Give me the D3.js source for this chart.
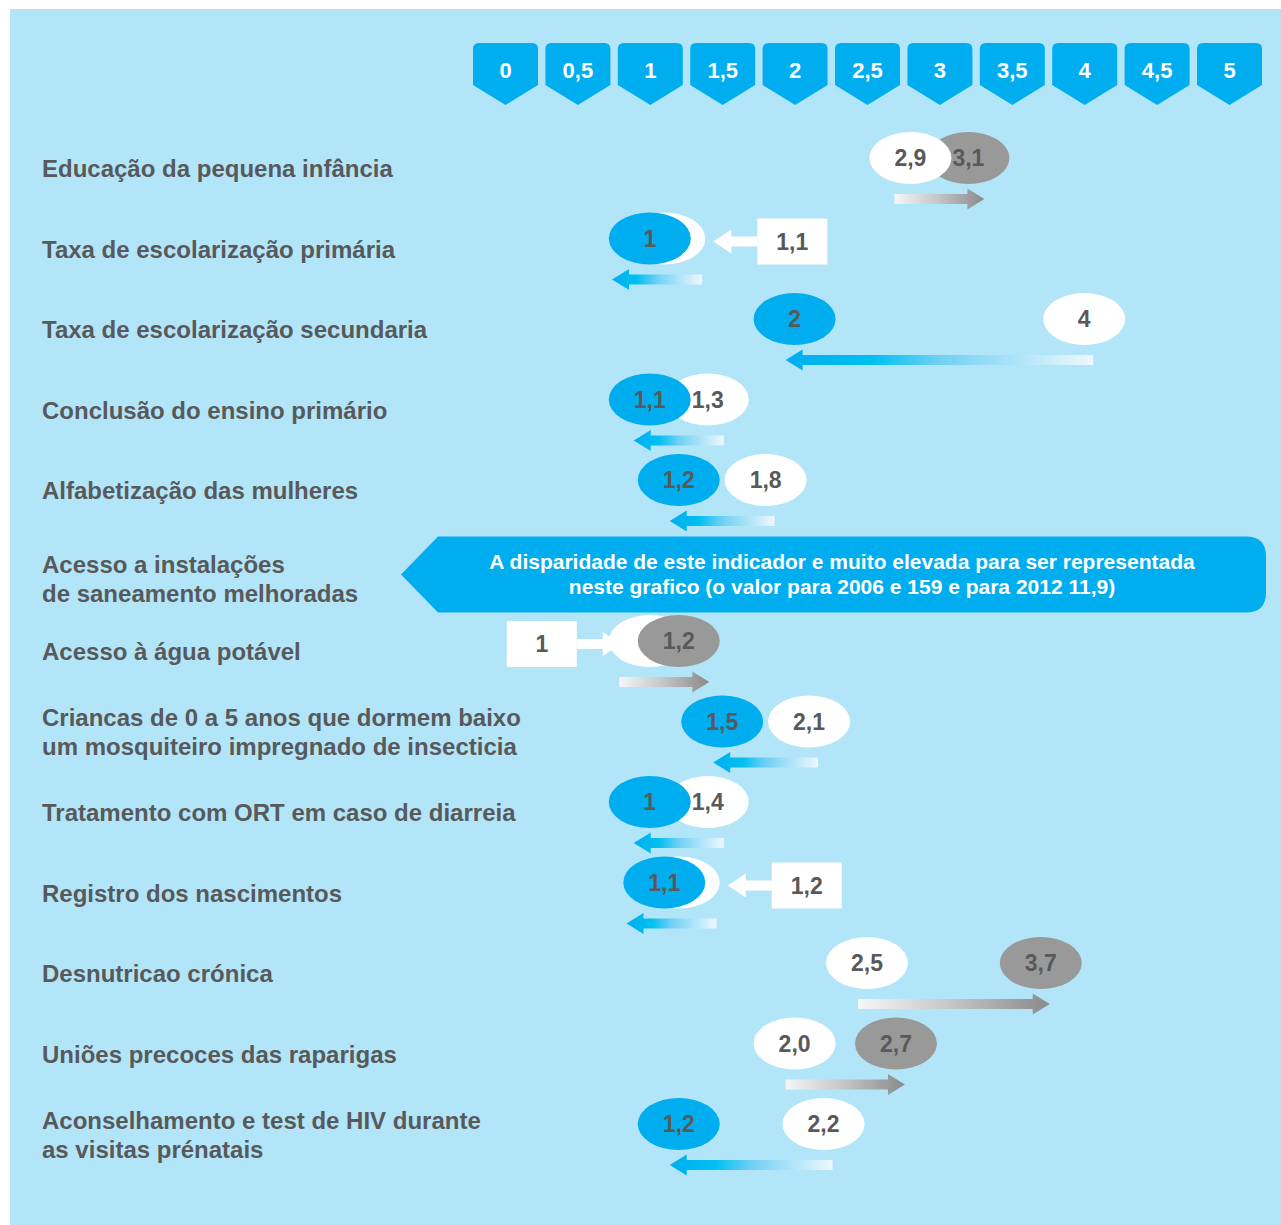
<!DOCTYPE html>
<html>
<head>
<meta charset="utf-8">
<script src="https://cdn.jsdelivr.net/npm/d3@7"></script>
<style>
  html, body { margin: 0; padding: 0; background: #ffffff; }
  svg { display: block; }
  text { font-family: "Liberation Sans", Arial, sans-serif; font-weight: bold; }
</style>
</head>
<body>
<div id="chart"></div>
<script>
// ---------- DATA ----------
const categories = [
  "Educação da pequena infância",
  "Taxa de escolarização primária",
  "Taxa de escolarização secundaria",
  "Conclusão do ensino primário",
  "Alfabetização das mulheres",
  "Acesso a instalações\nde saneamento melhoradas",
  "Acesso à água potável",
  "Criancas de 0 a 5 anos que dormem baixo\num mosquiteiro impregnado de insecticia",
  "Tratamento com ORT em caso de diarreia",
  "Registro dos nascimentos",
  "Desnutricao crónica",
  "Uniões precoces das raparigas",
  "Aconselhamento e test de HIV durante\nas visitas prénatais"
];
// 2006 (white) and 2012 values; null = not representable
const values2006 = [2.9, 1.1, 4, 1.3, 1.8, null, 1, 2.1, 1.4, 1.2, 2.5, 2.0, 2.2];
const values2012 = [3.1, 1, 2, 1.1, 1.2, null, 1.2, 1.5, 1, 1.1, 3.7, 2.7, 1.2];
const labels2006 = ["2,9", "1,1", "4", "1,3", "1,8", "", "1", "2,1", "1,4", "1,2", "2,5", "2,0", "2,2"];
const labels2012 = ["3,1", "1", "2", "1,1", "1,2", "", "1,2", "1,5", "1", "1,1", "3,7", "2,7", "1,2"];
// rows whose 2006 value is written in a separate box
const boxed2006 = [false, true, false, false, false, false, true, false, false, true, false, false, false];
const noteRow = 5;
const noteLines = [
  "A disparidade de este indicador e muito elevada para ser representada",
  "neste grafico (o valor para 2006 e 159 e para 2012 11,9)"
];
const tickValues = [0, 0.5, 1, 1.5, 2, 2.5, 3, 3.5, 4, 4.5, 5];
const tickLabels = ["0", "0,5", "1", "1,5", "2", "2,5", "3", "3,5", "4", "4,5", "5"];

// ---------- LAYOUT ----------
const W = 1281, H = 1225;
const BG = "#b3e5f9", BLUE = "#00aeef", GRAY = "#999999", TXT = "#58595b";

const svg = d3.select("#chart").append("svg").attr("width", W).attr("height", H);
const defs = svg.append("defs");

svg.append("rect").attr("x", 10).attr("y", 9).attr("width", W - 10).attr("height", H - 9).attr("fill", BG);

const x = d3.scaleLinear().domain([0, 5]).range([505, 1229]);
const y = d3.scalePoint().domain(d3.range(categories.length)).range([158, 1124]);

// ---------- TOP AXIS (badges) ----------
const axisG = svg.append("g").attr("transform", "translate(0,70)")
  .call(d3.axisTop(x).tickValues(tickValues).tickFormat((d, i) => tickLabels[i]).tickSize(0));
axisG.select(".domain").remove();
axisG.selectAll(".tick").each(function () {
  const t = d3.select(this);
  const hw = 32.5, top = -27, sh = 15, tip = 35, r = 6;
  t.insert("path", "text")
    .attr("d", `M${-hw},${sh} L${-hw},${top + r} Q${-hw},${top} ${-hw + r},${top} L${hw - r},${top} Q${hw},${top} ${hw},${top + r} L${hw},${sh} L0,${tip} Z`)
    .attr("fill", BLUE);
  t.select("text")
    .attr("y", 0).attr("dy", "0.35em")
    .attr("fill", "#ffffff")
    .style("font-size", "22px")
    .style("font-family", '"Liberation Sans", Arial, sans-serif')
    .style("font-weight", "bold");
});

// ---------- ROW LABELS ----------
const labelG = svg.append("g");
categories.forEach((c, i) => {
  const lines = c.split("\n");
  const t = labelG.append("text").attr("x", 42).attr("fill", TXT).style("font-size", "24px");
  const yc = y(i) + 11 + (i === noteRow ? 8 : 0);
  lines.forEach((ln, k) => {
    t.append("tspan").attr("x", 42)
      .attr("y", yc + (k - (lines.length - 1) / 2) * 29)
      .attr("dy", "0.35em").text(ln);
  });
});

// ---------- ARROWS + ELLIPSES ----------
const RX = 41, RY = 26;
const markG = svg.append("g");

function ellipseWithText(cx, cy, fill, label) {
  markG.append("ellipse").attr("cx", cx).attr("cy", cy).attr("rx", RX).attr("ry", RY).attr("fill", fill);
  if (label) {
    markG.append("text").attr("x", cx).attr("y", cy).attr("dy", "0.35em")
      .attr("text-anchor", "middle").attr("fill", TXT).style("font-size", "23px").text(label);
  }
}

categories.forEach((c, i) => {
  const a = values2006[i], b = values2012[i];
  if (a == null || b == null) return;
  const yc = y(i);
  const up = b > a;
  const col12 = up ? GRAY : BLUE;

  // trend arrow
  const xa = x(a), xb = x(b);
  const mid = (xa + xb) / 2;
  const dir = Math.sign(xb - xa) || 1;
  const L = Math.max(90, Math.abs(xb - xa) + 18);
  const t0 = mid - dir * L / 2, t1 = mid + dir * L / 2;
  const ay = yc + 41;
  const gid = "g" + i;
  const grad = defs.append("linearGradient").attr("id", gid)
    .attr("gradientUnits", "userSpaceOnUse")
    .attr("x1", t0).attr("y1", ay).attr("x2", t1).attr("y2", ay);
  const stops = up
    ? [[0, "#f4f6f7"], [0.45, "#c8c9cb"], [1, "#8a8a8c"]]
    : [[0, "#eef8fd"], [0.5, "#6fd0f4"], [0.72, "#00c0f0"], [1, BLUE]];
  stops.forEach(s => grad.append("stop").attr("offset", s[0]).attr("stop-color", s[1]));
  const hl = 17, sh = 5, hh = 10.5;
  const hb = t1 - dir * hl;
  markG.append("path")
    .attr("d", `M${t0},${ay - sh} L${hb},${ay - sh} L${hb},${ay - hh} L${t1},${ay} L${hb},${ay + hh} L${hb},${ay + sh} L${t0},${ay + sh} Z`)
    .attr("fill", `url(#${gid})`);

  if (boxed2006[i]) {
    // 2006 ellipse hidden behind the 2012 one; its value goes in a box
    ellipseWithText(xa, yc, "#ffffff", null);
    ellipseWithText(xb, yc, col12, labels2012[i]);
    const side = a > b ? 1 : -1; // box on the side away from the 2012 value
    const tip = xa + side * (RX + (side > 0 ? 8 : -12));
    const boxNear = tip + side * 44;
    const bw = 70, bh = 46;
    const bx = side > 0 ? boxNear : boxNear - bw;
    const py = yc + 3;
    markG.append("rect").attr("x", bx).attr("y", py - bh / 2).attr("width", bw).attr("height", bh).attr("fill", "#ffffff");
    markG.append("text").attr("x", bx + bw / 2).attr("y", py).attr("dy", "0.35em")
      .attr("text-anchor", "middle").attr("fill", TXT).style("font-size", "23px").text(labels2006[i]);
    const hb2 = tip + side * 18;
    markG.append("path")
      .attr("d", `M${boxNear},${py - 5} L${hb2},${py - 5} L${hb2},${py - 12} L${tip},${py} L${hb2},${py + 12} L${hb2},${py + 5} L${boxNear},${py + 5} Z`)
      .attr("fill", "#ffffff");
  } else {
    // spread apart when labels would collide; the left ellipse sits on top
    let ea = xa, eb = xb;
    if (Math.abs(xa - xb) < 58) { ea = mid - dir * 29; eb = mid + dir * 29; }
    const items = [
      { cx: ea, fill: "#ffffff", label: labels2006[i] },
      { cx: eb, fill: col12, label: labels2012[i] }
    ].sort((p, q) => q.cx - p.cx);
    items.forEach(it => ellipseWithText(it.cx, yc, it.fill, it.label));
  }
});

// ---------- NOTE BANNER ----------
const by = y(noteRow) + 14;
const bL = 401, bK = 438, bR = x.range()[1] + 37, bH = 38, br = 20;
svg.append("path")
  .attr("d", `M${bL},${by} L${bK},${by - bH} L${bR - br},${by - bH} Q${bR},${by - bH} ${bR},${by - bH + br} L${bR},${by + bH - br} Q${bR},${by + bH} ${bR - br},${by + bH} L${bK},${by + bH} Z`)
  .attr("fill", BLUE);
const nt = svg.append("text").attr("text-anchor", "middle").attr("fill", "#ffffff").style("font-size", "21px");
noteLines.forEach((ln, k) => {
  nt.append("tspan").attr("x", 842).attr("y", by + (k - 0.5) * 25).attr("dy", "0.35em").text(ln);
});
</script>
</body>
</html>
